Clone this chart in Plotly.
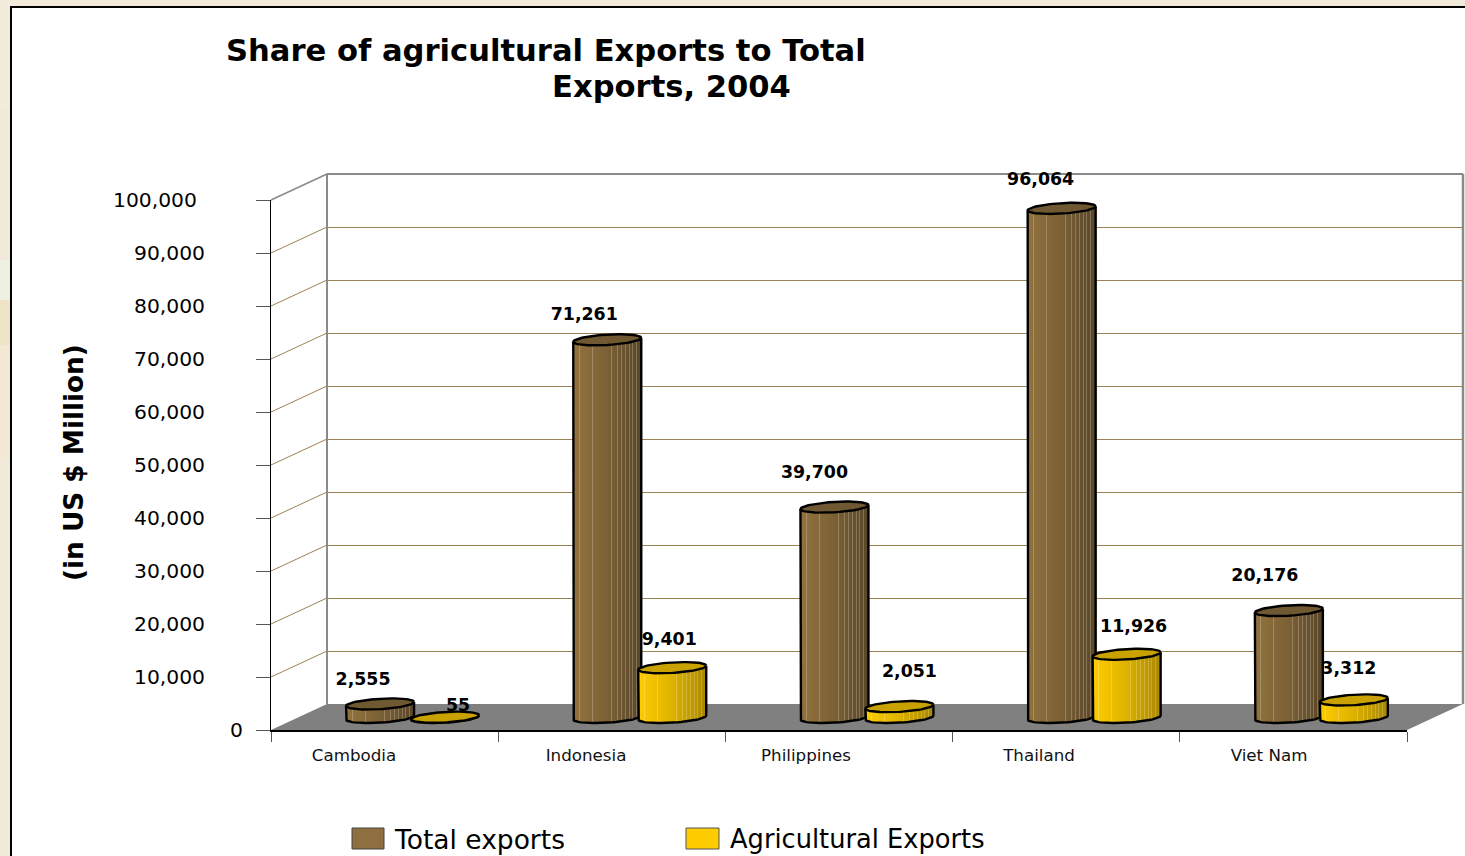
import numpy as np
import plotly.graph_objects as go

# ---- chart data ----
COUNTRIES = ["Cambodia", "Indonesia", "Philippines", "Thailand", "Viet Nam"]
TOTAL_EXPORTS = [2555, 71261, 39700, 96064, 20176]
AGRI_EXPORTS = [55, 9401, 2051, 11926, 3312]
VALUE_TICKS = [0, 10000, 20000, 30000, 40000, 50000, 60000, 70000, 80000, 90000, 100000]

# ---- page geometry (pixels) ----
W, H = 1465, 856
LEFT, RIGHT = 271, 1407        # front edge of the floor
FLOOR_Y, TOP_Y = 730, 200      # value 0 and 100,000 on the front plane
DEPTH_X, DEPTH_Y = 56, 26      # offset of the back wall
CYL_BASE_Y = 717.5             # value 0 at the plane through the cylinder axes
PX_PER_UNIT = (FLOOR_Y - TOP_Y) / 100000
PX_PER_CAT = (RIGHT - LEFT) / 5

BROWN_RAMP = [(0.0, "#92733e"), (0.5, "#7c6136"), (1.0, "#5a4728")]
GOLD_RAMP = [(0.0, "#ffcc00"), (0.5, "#dfb300"), (1.0, "#a98800")]
BROWN_TOP, GOLD_TOP = "#6f5832", "#c9a200"
GRID = "#9c8254"
STRIPS = 68
HIGHLIGHT_STRIPS = {6, 19, 38, 44, 48, 52, 56, 59, 63}
OUTLINE = 2.4


def px(x):
    return x / W


def py(y):
    return 1 - y / H


def hex_rgb(c):
    return np.array([int(c[i:i + 2], 16) for i in (1, 3, 5)], dtype=float)


def to_hex(rgb):
    return "#%02x%02x%02x" % tuple(int(round(v)) for v in rgb)


def ramp_colors(ramp):
    out = []
    for k in range(STRIPS):
        t = k / (STRIPS - 1)
        stops = [s for s, _ in ramp]
        rgb = [np.interp(t, stops, [hex_rgb(c)[ch] for _, c in ramp]) for ch in range(3)]
        rgb = np.array(rgb)
        if k in HIGHLIGHT_STRIPS:
            rgb = rgb + (255 - rgb) * 0.22
        out.append(to_hex(rgb))
    return out


fig = go.Figure()

STRIP_W = 1 / PX_PER_CAT
HALF_W = STRIPS / 2 * STRIP_W
RY = 5.2 / PX_PER_UNIT
TILT = 2.0 / PX_PER_UNIT


def add_cylinder(center, value, ramp, top_color, xa, ya):
    xs = center + (np.arange(STRIPS) + 0.5 - STRIPS / 2) * STRIP_W
    u = (xs - center) / HALF_W
    arc = RY * np.sqrt(np.clip(1 - u ** 2, 0, 1))
    base = TILT * u - arc
    top = value + TILT * u - arc
    fig.add_trace(go.Bar(x=xs, y=top - base, base=base, width=STRIP_W,
                         marker=dict(color=ramp_colors(ramp), line=dict(width=0)),
                         xaxis=xa, yaxis=ya, hoverinfo="skip", showlegend=False))
    t = np.linspace(0, 2 * np.pi, 73)
    ex = center + HALF_W * np.cos(t)
    ey = value + TILT * np.cos(t) + RY * np.sin(t)
    # silhouette: down the left side, along the lower rim, back up the right side
    b = np.linspace(np.pi, 2 * np.pi, 37)
    sx = np.concatenate([[center - HALF_W], center + HALF_W * np.cos(b), [center + HALF_W]])
    sy = np.concatenate([[value - TILT], TILT * np.cos(b) + RY * np.sin(b), [value + TILT]])
    fig.add_trace(go.Scatter(x=sx, y=sy, mode="lines", line=dict(color="#000000", width=OUTLINE),
                             xaxis=xa, yaxis=ya, hoverinfo="skip", showlegend=False,
                             cliponaxis=False))
    fig.add_trace(go.Scatter(x=ex, y=ey, mode="lines", fill="toself", fillcolor=top_color,
                             line=dict(color="#000000", width=OUTLINE),
                             xaxis=xa, yaxis=ya, hoverinfo="skip", showlegend=False,
                             cliponaxis=False))


# back wall: carries the horizontal grid lines
fig.add_trace(go.Scatter(x=[0], y=[0], mode="none", xaxis="x", yaxis="y",
                         hoverinfo="skip", showlegend=False))

# data labels sit behind the cylinders, on the front-plane scale
TOTAL_DX = [-17, -23, -20, -21, -24]
TOTAL_Y = [681, 316, 474, 181, 577]
AGRI_DX = [13, -3, 10, 7, -5]
AGRI_Y = [707, 641, 673, 628, 670]
TOTAL_C = 0.480
AGRI_C = 0.766
LABEL_TOP = 110000
label_x, label_y, label_text = [], [], []
for i in range(5):
    label_x += [i + TOTAL_C + TOTAL_DX[i] / PX_PER_CAT, i + AGRI_C + AGRI_DX[i] / PX_PER_CAT]
    label_y += [(FLOOR_Y - TOTAL_Y[i]) / PX_PER_UNIT, (FLOOR_Y - AGRI_Y[i]) / PX_PER_UNIT]
    label_text += [f"{TOTAL_EXPORTS[i]:,}", f"{AGRI_EXPORTS[i]:,}"]
fig.add_trace(go.Scatter(x=label_x, y=label_y, text=label_text, mode="text",
                         textposition="middle center", cliponaxis=False,
                         textfont=dict(family="DejaVu Sans", size=17.4, color="#000000", weight=700),
                         xaxis="x2", yaxis="y2", hoverinfo="skip", showlegend=False))

for i in range(5):
    add_cylinder(i + TOTAL_C, TOTAL_EXPORTS[i], BROWN_RAMP, BROWN_TOP, "x3", "y3")
for i in range(5):
    add_cylinder(i + AGRI_C, AGRI_EXPORTS[i], GOLD_RAMP, GOLD_TOP, "x4", "y4")

# front plane: axis lines and tick marks
fig.add_trace(go.Scatter(x=[0], y=[0], mode="none", xaxis="x5", yaxis="y5",
                         hoverinfo="skip", showlegend=False))


# ---- frame, floor and side wall ----
shapes = []


def rect(x0, y0, x1, y1, fill, line=None, lw=0):
    shapes.append(dict(type="rect", xref="paper", yref="paper", layer="below",
                       x0=px(x0), x1=px(x1), y0=py(y1), y1=py(y0), fillcolor=fill,
                       line=dict(color=line or fill, width=lw)))


def seg(x0, y0, x1, y1, color, lw=1):
    shapes.append(dict(type="line", xref="paper", yref="paper", layer="below",
                       x0=px(x0), x1=px(x1), y0=py(y0), y1=py(y1),
                       line=dict(color=color, width=lw)))


# tinted bands in the page margin
rect(0, 0, 11, 110, "#f2ecdc")
rect(0, 260, 11, 300, "#eef0e2")
rect(0, 300, 11, 345, "#f0e4c6")
rect(0, 345, 11, 460, "#f1e9d4")
rect(11, 7, W + 5, H + 5, "#ffffff", "#000000", 2)

shapes.append(dict(type="path", xref="paper", yref="paper", layer="below",
                   path=f"M{px(LEFT)},{py(FLOOR_Y)} L{px(LEFT + DEPTH_X)},{py(FLOOR_Y - DEPTH_Y)} "
                        f"L{px(RIGHT + DEPTH_X)},{py(FLOOR_Y - DEPTH_Y)} L{px(RIGHT)},{py(FLOOR_Y)} Z",
                   fillcolor="#808080", line=dict(width=0)))
for v in VALUE_TICKS[1:-1]:
    y = FLOOR_Y - v * PX_PER_UNIT
    seg(LEFT, y, LEFT + DEPTH_X, y - DEPTH_Y, GRID)
seg(LEFT, TOP_Y, LEFT + DEPTH_X, TOP_Y - DEPTH_Y, "#8a8a8a", 1.5)
seg(LEFT + DEPTH_X, TOP_Y - DEPTH_Y, RIGHT + DEPTH_X, TOP_Y - DEPTH_Y, "#8a8a8a", 2)
seg(LEFT + DEPTH_X, TOP_Y - DEPTH_Y, LEFT + DEPTH_X, FLOOR_Y - DEPTH_Y, "#8a8a8a", 2)
seg(RIGHT + DEPTH_X, TOP_Y - DEPTH_Y, RIGHT + DEPTH_X, FLOOR_Y - DEPTH_Y, "#8a8a8a", 2.5)

# legend keys
rect(352, 828, 384, 849, "#8f6f3f", "#444444", 1)
rect(686, 828, 719, 849, "#ffcc00", "#555555", 1)

# ---- text ----
FONT = "DejaVu Sans"
annotations = []


def note(text, x, y, size, bold=False, anchor="center", angle=0):
    annotations.append(dict(text=text, x=px(x), y=py(y), xref="paper", yref="paper",
                            xanchor=anchor, yanchor="middle", showarrow=False, textangle=angle,
                            font=dict(family=FONT, size=size, color="#000000",
                                      weight=700 if bold else 400)))


note("Share of agricultural Exports to Total", 546, 50, 30.6, True)
note("Exports, 2004", 671, 87, 30.6, True)
note("(in US $ Million)", 74, 463, 26.3, True, angle=-90)
note("Total exports", 392, 839, 26.5, anchor="left")
note("Agricultural Exports", 728, 839, 25.7, anchor="left")

# value-axis labels: the widest one sits further left than the rest
TICK_RIGHT = [245, 207, 207, 207, 207, 207, 207, 207, 207, 207, 199]
for v, r in zip(VALUE_TICKS, TICK_RIGHT):
    note(f"{v:,}", r, FLOOR_Y - v * PX_PER_UNIT, 20.3, anchor="right")

# ---- axes ----
def y_domain(zero_px, lo=0, hi=100000):
    return [py(zero_px - lo * PX_PER_UNIT), py(zero_px - hi * PX_PER_UNIT)]


x_front = [px(LEFT), px(RIGHT)]
hidden = dict(visible=False, showgrid=False, zeroline=False, fixedrange=True)
LABEL_CENTERS = [354, 586, 806, 1039, 1269]
label_ticks = [(c - LEFT) / PX_PER_CAT for c in LABEL_CENTERS]
CYL_LOW = -4800

fig.update_layout(
    width=W, height=H, autosize=False,
    margin=dict(l=0, r=0, t=0, b=0),
    paper_bgcolor="#f1eadb", plot_bgcolor="rgba(0,0,0,0)",
    barmode="overlay", showlegend=False, hovermode=False,
    shapes=shapes, annotations=annotations,
    # back wall
    xaxis=dict(domain=[px(LEFT + DEPTH_X), px(RIGHT + DEPTH_X)], range=[0, 5], **hidden),
    yaxis=dict(domain=y_domain(FLOOR_Y - DEPTH_Y), range=[0, 100000], anchor="x",
               showgrid=True, gridcolor=GRID, gridwidth=1, tickvals=VALUE_TICKS,
               showticklabels=False, ticks="", showline=False, zeroline=False, fixedrange=True),
    # label layer, with head room above the top of the scale
    xaxis2=dict(domain=x_front, range=[0, 5], anchor="y2", **hidden),
    yaxis2=dict(domain=y_domain(FLOOR_Y, 0, LABEL_TOP), range=[0, LABEL_TOP], anchor="x2", **hidden),
    # cylinders stand on a plane half way into the floor
    xaxis3=dict(domain=x_front, range=[0, 5], anchor="y3", tickvals=label_ticks,
                ticktext=COUNTRIES, ticks="", showline=False, showgrid=False, zeroline=False,
                tickfont=dict(family=FONT, size=16.7, color="#111111"), fixedrange=True),
    yaxis3=dict(domain=y_domain(CYL_BASE_Y, CYL_LOW), range=[CYL_LOW, 100000], anchor="x3", **hidden),
    xaxis4=dict(domain=x_front, range=[0, 5], anchor="y4", **hidden),
    yaxis4=dict(domain=y_domain(CYL_BASE_Y, CYL_LOW), range=[CYL_LOW, 100000], anchor="x4", **hidden),
    xaxis5=dict(domain=x_front, range=[0, 5], anchor="y5", tickvals=[0, 1, 2, 3, 4, 5],
                ticks="outside", ticklen=10, tickwidth=1, tickcolor="#555555",
                showticklabels=False, showline=True, linecolor="#000000", linewidth=2,
                showgrid=False, zeroline=False, fixedrange=True),
    yaxis5=dict(domain=y_domain(FLOOR_Y), range=[0, 100000], anchor="x5", tickvals=VALUE_TICKS,
                ticks="outside", ticklen=14, tickwidth=1, tickcolor="#555555",
                showticklabels=False, showline=True, linecolor="#000000", linewidth=1,
                showgrid=False, zeroline=False, fixedrange=True),
)

fig.write_html("out.html")
